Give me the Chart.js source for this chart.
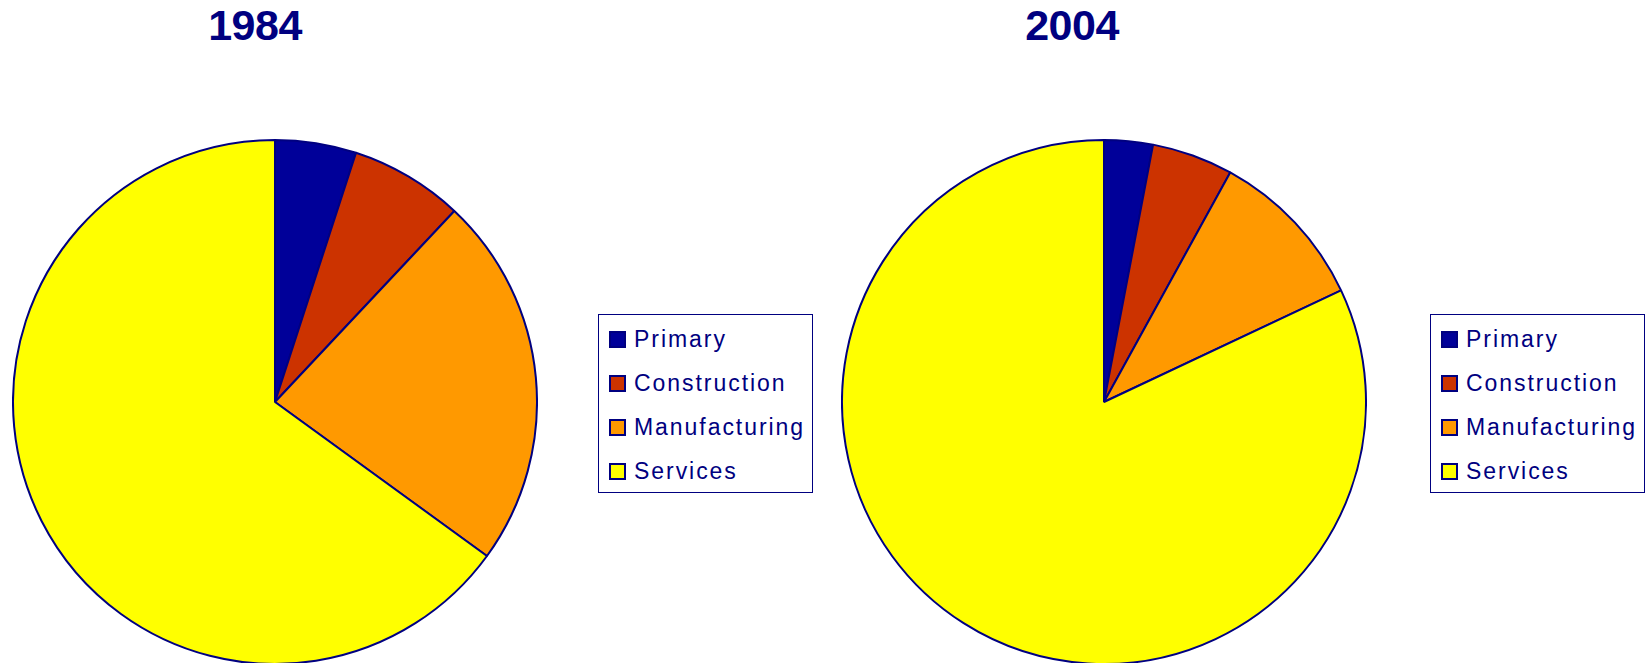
<!DOCTYPE html>
<html>
<head>
<meta charset="utf-8">
<script src="https://cdn.jsdelivr.net/npm/chart.js@4"></script>
<style>
  body { margin: 0; background: #fff; width: 1649px; height: 663px; overflow: hidden; position: relative; font-family: "Liberation Sans", Arial, sans-serif; }
  .title { position: absolute; top: 1px; width: 200px; text-align: center; font-weight: bold; font-size: 43px; letter-spacing: -0.5px; color: #000080; }
  .pie { position: absolute; top: 139px; width: 526px; height: 526px; }
  .legend { position: absolute; top: 314px; width: 213px; height: 177px; border: 1.5px solid #000080; box-sizing: content-box; }
  .row { position: absolute; left: 10px; height: 26px; line-height: 26px; font-size: 23px; letter-spacing: 1.95px; color: #000080; white-space: nowrap; }
  .box { display: inline-block; width: 13px; height: 13px; border: 2px solid #000080; vertical-align: -1px; margin-right: 8px; }
</style>
</head>
<body>
<div class="title" id="t1" style="left:155px"></div>
<div class="title" id="t2" style="left:972px"></div>
<div class="pie" style="left:12px"><canvas id="pie1"></canvas></div>
<div class="pie" style="left:841px"><canvas id="pie2"></canvas></div>
<div class="legend" id="leg1" style="left:598px"></div>
<div class="legend" id="leg2" style="left:1430px"></div>
<script>
const categories = ["Primary", "Construction", "Manufacturing", "Services"];
const values1984 = [5, 7, 23, 65];
const values2004 = [3, 5, 10, 82];
const titles = ["1984", "2004"];
const colors = ["#000099", "#CC3300", "#FF9900", "#FFFF00"];

//legend html
function makeLegend(el) {
  categories.forEach((name, i) => {
    const row = document.createElement("div");
    row.className = "row";
    row.style.top = 11 + i * 44 + "px";
    row.innerHTML = `<span class="box" style="background:${colors[i]}"></span>${name}`;
    el.appendChild(row);
  });
}

function makePie(id, values) {
  new Chart(document.getElementById(id), {
    type: "pie",
    data: {
      labels: categories,
      datasets: [
        {
          data: values,
          backgroundColor: colors,
          borderColor: "#000080",
          borderWidth: 2,
        },
      ],
    },
    options: {
      responsive: true,
      maintainAspectRatio: false,
      animation: false,
      layout: { padding: 0 },
      plugins: {
        legend: { display: false },
        tooltip: { enabled: false },
      },
    },
  });
}

document.getElementById("t1").textContent = titles[0];
document.getElementById("t2").textContent = titles[1];
makeLegend(document.getElementById("leg1"));
makeLegend(document.getElementById("leg2"));
makePie("pie1", values1984);
makePie("pie2", values2004);
</script>
</body>
</html>
